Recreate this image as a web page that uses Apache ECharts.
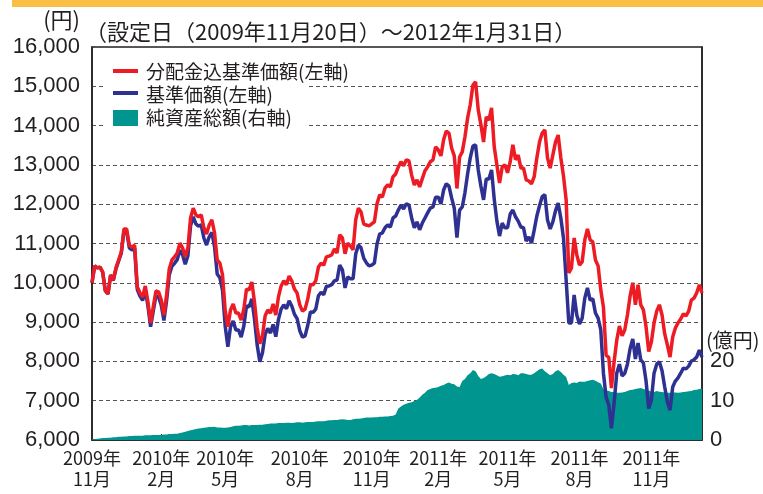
<!DOCTYPE html>
<html><head><meta charset="utf-8">
<script src="https://cdn.jsdelivr.net/npm/echarts@6/dist/echarts.min.js"></script>
<style>html,body{margin:0;padding:0;background:#fff}#c{width:763px;height:494px}</style>
</head><body><div id="c"></div>
<script>
// x-axis tick labels and the sample index (half-weekly samples) where each appears
const tickLabels = ['2009年\n11月','2010年\n2月','2010年\n5月','2010年\n8月','2010年\n11月','2011年\n2月','2011年\n5月','2011年\n8月','2011年\n11月'];
const tickIndex = [0,26,50,78,105,130,156,183,210];

// 分配金込基準価額 (yen, left axis)
const redVals = [
10000,10430,10380,10400,10275,9800,9715,10200,10070,10380,
10580,10780,11370,11370,10960,10910,10960,9900,9740,9640,
9920,9510,8980,9390,9790,9770,9560,9180,9690,10350,
10580,10660,10760,11010,10890,10660,10890,11650,11900,11730,
11680,11730,11400,11240,11470,11600,11270,10580,10500,10200,
9300,8880,9310,9460,9230,9230,9050,9330,9840,9820,
10020,9510,8850,8450,8650,9160,9310,9230,9460,9180,
9640,9920,10050,9950,10170,10050,9840,9740,9440,9280,
9330,9590,9950,9950,10050,10400,10500,10450,10660,10680,
10710,10860,10760,11220,11140,10740,11010,10940,10840,11600,
11900,11800,11500,11470,11450,11500,11550,12010,12240,12180,
12410,12490,12440,12700,12770,12950,13080,12980,13130,13100,
12740,12490,12620,12440,12650,12850,12950,13080,13130,13460,
13380,13230,13640,13860,13810,13430,13230,12400,13200,13330,
13710,14190,14530,15030,15110,14400,14020,13580,14220,14140,
14450,13460,13000,12540,12950,13000,12800,13080,13510,13130,
13250,12920,12920,12620,12590,12520,12700,13180,13580,13810,
13890,13180,12920,13250,13580,13760,13180,12720,12110,10250,
10380,11140,10710,10450,10530,11090,11370,11090,11040,10580,
10430,9820,9380,8160,8100,7320,7990,8540,8900,8650,
8800,9180,9660,10000,9440,9950,9440,9310,8880,8250,
8500,8980,9280,9440,9180,8700,8420,8110,8620,8850,
8980,9080,9210,9160,9280,9560,9610,9740,9950,9740];

// 基準価額 (yen, left axis)
const blueVals = [
10000,10430,10380,10400,10275,9800,9715,10200,10060,10355,
10555,10755,11320,11320,10890,10835,10885,9825,9665,9550,
9830,9410,8880,9275,9670,9640,9430,9040,9540,10200,
10420,10495,10590,10830,10710,10470,10690,11450,11680,11500,
11440,11475,11140,10960,11170,11280,10920,10225,10130,9805,
8900,8370,8880,9030,8800,8800,8620,8900,9410,9390,
9590,9080,8420,7990,8220,8690,8840,8720,8940,8630,
9070,9330,9440,9340,9540,9410,9200,9090,8780,8620,
8650,8920,9260,9250,9330,9670,9760,9700,9910,9920,
9950,10050,10070,10450,10330,9870,10150,10100,10100,10730,
10960,10890,10630,10510,10430,10450,10500,10990,11240,11270,
11400,11470,11420,11650,11700,11850,11980,11880,12010,11980,
11650,11400,11550,11350,11520,11650,11780,11900,11930,12180,
12180,12010,12360,12520,12460,12160,11900,11150,11850,11930,
12290,12770,13180,13480,13510,12870,12460,12110,12640,12640,
12870,12130,11570,11190,11520,11400,11400,11750,11850,11680,
11570,11420,11400,11060,11170,11010,11340,11700,11960,12190,
12240,11600,11370,11550,11830,12030,11650,11140,10070,8980,
8980,9690,9180,8950,9100,9610,9870,9560,9590,9230,
9100,8800,7700,7090,6890,6300,6940,7700,7930,7630,
7700,7930,8320,8570,8060,8470,8040,7960,7500,6800,
7020,7700,7930,7990,7760,7350,6970,6760,7350,7500,
7580,7700,7830,7810,7880,8010,8040,8110,8290,8110];

// 純資産総額 (億円, right axis)
const netVals = [
0.2,0.2,0.3,0.4,0.5,0.5,0.6,0.6,0.7,0.7,
0.8,0.8,0.9,0.9,1.0,1.0,1.1,1.1,1.1,1.1,
1.2,1.2,1.2,1.3,1.3,1.3,1.3,1.4,1.4,1.5,
1.5,1.6,1.6,1.8,1.9,2.1,2.3,2.5,2.6,2.8,
2.9,3.0,3.1,3.2,3.3,3.3,3.4,3.2,3.2,3.1,
3.1,3.2,3.3,3.5,3.6,3.6,3.7,3.8,3.8,3.7,
3.8,3.8,3.8,3.9,3.9,4.0,4.1,4.2,4.2,4.2,
4.3,4.3,4.3,4.4,4.4,4.3,4.4,4.5,4.5,4.4,
4.5,4.6,4.6,4.6,4.7,4.8,4.8,4.8,4.9,5.0,
5.0,5.1,5.1,5.2,5.3,5.2,5.1,5.1,5.3,5.4,
5.4,5.5,5.6,5.7,5.7,5.7,5.8,5.8,5.9,5.9,
6.0,6.0,6.1,6.2,6.5,8.0,8.5,9.0,9.2,9.5,
9.6,9.9,10.2,10.8,11.5,12.0,12.7,13.0,13.2,13.3,
13.5,13.8,14.0,14.4,14.6,14.3,14.2,13.6,13.5,15.0,
15.5,16.5,17.0,17.8,17.5,16.3,15.5,15.8,16.2,16.8,
17.0,16.8,16.5,16.1,16.2,16.4,16.6,16.5,16.8,16.7,
16.5,17.0,17.0,16.8,16.6,16.6,17.0,17.5,18.0,18.2,
17.5,17.0,16.5,16.8,17.5,17.8,17.3,16.6,16.0,14.0,
14.5,14.6,14.5,14.9,14.8,14.8,15.0,15.2,15.3,15.1,
14.7,14.4,13.0,12.6,12.5,12.2,12.2,12.0,12.0,12.1,
12.2,12.5,12.7,12.8,13.0,13.1,13.2,13.0,12.8,12.6,
12.3,12.2,12.5,12.3,12.2,12.1,12.0,12.0,12.1,12.1,
12.0,12.1,12.2,12.3,12.4,12.5,12.7,12.8,13.0,13.1];

const seriesNames = ['分配金込基準価額(左軸)','基準価額(左軸)','純資産総額(右軸)'];
const titleText = '（設定日（2009年11月20日）～2012年1月31日）';

const categories = redVals.map((_, i) => {
  const k = tickIndex.indexOf(i);
  return k >= 0 ? tickLabels[k] : '';
});

const FONT = '"Noto Sans CJK JP", sans-serif';
const INK = '#231f20';
const RED = '#ed1c24', BLUE = '#2e3192', TEAL = '#00958f';

const chart = echarts.init(document.getElementById('c'), null, {renderer: 'canvas'});
chart.setOption({
  animation: false,
  backgroundColor: '#fff',
  grid: {left: 92, right: 61, top: 47, bottom: 54, show: true, borderColor: INK, borderWidth: 1.5, backgroundColor: 'transparent'},
  xAxis: {
    type: 'category', data: categories, boundaryGap: false,
    axisLine: {show: true, lineStyle: {color: INK, width: 1.5}},
    axisTick: {show: true, inside: true, length: 6, interval: (i, v) => v !== '' && i > 0, lineStyle: {color: INK, width: 1.2}},
    axisLabel: {interval: 0, color: INK, fontSize: 18, lineHeight: 21, margin: 8, fontFamily: FONT},
    splitLine: {show: false}
  },
  yAxis: [{
    type: 'value', min: 6000, max: 16000, interval: 1000,
    axisLine: {show: true, lineStyle: {color: INK, width: 1.5}},
    axisTick: {show: false},
    axisLabel: {formatter: v => v.toLocaleString('en-US'), fontSize: 22, color: INK, margin: 12, fontFamily: '"Liberation Sans", sans-serif'},
    splitLine: {show: true, lineStyle: {type: [4, 3], color: '#555', width: 1}}
  }, {
    type: 'value', min: 0, max: 100, interval: 10, position: 'right',
    axisLine: {show: true, lineStyle: {color: INK, width: 1.5}},
    axisTick: {show: false},
    splitLine: {show: false},
    axisLabel: {formatter: v => (v <= 20 ? String(v) : ''), fontSize: 22, color: INK, margin: 8, fontFamily: '"Liberation Sans", sans-serif'}
  }],
  series: [{
    name: seriesNames[2], type: 'line', yAxisIndex: 1, data: netVals, showSymbol: false, silent: true,
    lineStyle: {width: 0}, itemStyle: {color: TEAL}, areaStyle: {color: TEAL, opacity: 1}, z: 1
  }, {
    name: seriesNames[1], type: 'line', data: blueVals, showSymbol: false, silent: true,
    lineStyle: {width: 3.5, color: BLUE}, itemStyle: {color: BLUE}, z: 3
  }, {
    name: seriesNames[0], type: 'line', data: redVals, showSymbol: false, silent: true,
    lineStyle: {width: 3.5, color: RED}, itemStyle: {color: RED}, z: 4
  }],
  graphic: [
    {type: 'rect', z: 10, shape: {x: 12, y: 0, width: 751, height: 7}, style: {fill: '#fbbf48'}},
    {type: 'text', z: 10, x: 80, y: 20, style: {text: '(円)', fill: INK, font: '22px ' + FONT, align: 'right', verticalAlign: 'middle'}},
    {type: 'text', z: 10, x: 85, y: 32, style: {text: titleText, fill: INK, font: '22px ' + FONT, align: 'left', verticalAlign: 'middle'}},
    {type: 'text', z: 10, x: 706, y: 340, style: {text: '(億円)', fill: INK, font: '20px ' + FONT, align: 'left', verticalAlign: 'middle'}},
    {type: 'rect', z: 10, shape: {x: 104, y: 58, width: 204, height: 74}, style: {fill: '#fff'}},
    {type: 'rect', z: 11, shape: {x: 113, y: 69, width: 25, height: 4}, style: {fill: RED}},
    {type: 'rect', z: 11, shape: {x: 113, y: 91, width: 25, height: 4}, style: {fill: BLUE}},
    {type: 'rect', z: 11, shape: {x: 113, y: 110, width: 25, height: 16}, style: {fill: TEAL}},
    {type: 'text', z: 11, x: 146, y: 72, style: {text: seriesNames[0], fill: INK, font: '19px ' + FONT, verticalAlign: 'middle'}},
    {type: 'text', z: 11, x: 146, y: 95, style: {text: seriesNames[1], fill: INK, font: '19px ' + FONT, verticalAlign: 'middle'}},
    {type: 'text', z: 11, x: 146, y: 118, style: {text: seriesNames[2], fill: INK, font: '19px ' + FONT, verticalAlign: 'middle'}}
  ]
});
</script></body></html>
